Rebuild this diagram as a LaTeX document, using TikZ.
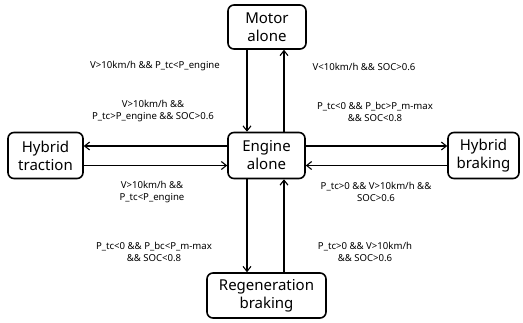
\documentclass[tikz,border=0pt]{standalone}
\usepackage{fontspec}
\setmainfont{Noto Sans}
\usetikzlibrary{arrows.meta}
\begin{document}
\begin{tikzpicture}[x=1pt,y=-1pt,
  state/.style={draw, line width=1.6pt, rounded corners=6pt, align=center,
    font=\fontsize{15}{18}\selectfont, inner sep=0pt},
  cond/.style={align=center, font=\fontsize{9.6}{12.5}\selectfont, inner sep=0pt},
  link/.style={line width=1.1pt, -{Straight Barb[length=5pt,width=8pt,line width=1.1pt]}}]
\useasboundingbox (0,0) rectangle (523,322);
\node[state, minimum width=78pt, minimum height=44pt] (motor) at (267,27) {Motor\\alone};
\node[state, minimum width=77pt, minimum height=46pt] (engine) at (266.5,155.5) {Engine\\alone};
\node[state, minimum width=75pt, minimum height=46pt] (trac) at (45.5,155.5) {Hybrid\\traction};
\node[state, minimum width=71pt, minimum height=46pt] (brak) at (483.5,155.5) {Hybrid\\braking};
\node[state, minimum width=119pt, minimum height=45pt] (regen) at (266.5,295.5) {Regeneration\\braking};

\draw[link] ([xshift=-20pt]motor.south) -- ([xshift=-19.5pt]engine.north);
\draw[link] ([xshift=17.5pt]engine.north) -- ([xshift=17pt]motor.south);
\draw[link] ([yshift=9.5pt]engine.west) -- ([yshift=9.5pt]trac.east);
\draw[link] ([yshift=-10pt]trac.east) -- ([yshift=-10pt]engine.west);
\draw[link] ([yshift=9.5pt]engine.east) -- ([yshift=9.5pt]brak.west);
\draw[link] ([yshift=-10pt]brak.west) -- ([yshift=-10pt]engine.east);
\draw[link] ([xshift=-19.5pt]engine.south) -- ([xshift=-19.5pt]regen.north);
\draw[link] ([xshift=17.5pt]regen.north) -- ([xshift=17.5pt]engine.south);

\node[cond] (c1) at (155,66) {V>10km/h \&\& P\_tc<P\_engine};
\node[cond] (c2) at (153,111) {V>10km/h \&\&\\P\_tc>P\_engine \&\& SOC>0.6};
\node[cond] (c3) at (364,67) {V<10km/h \&\& SOC>0.6};
\node[cond] (c4) at (375,112) {P\_tc<0 \&\& P\_bc>P\_m-max\\\&\& SOC<0.8};
\node[cond] (c5) at (152,192) {V>10km/h \&\&\\P\_tc<P\_engine};
\node[cond] (c6) at (154,252) {P\_tc<0 \&\& P\_bc<P\_m-max\\\&\& SOC<0.8};
\node[cond] (c7) at (376,192) {P\_tc>0 \&\& V>10km/h \&\&\\SOC>0.6};
\node[cond] (c8) at (365,252) {P\_tc>0 \&\& V>10km/h\\\&\& SOC>0.6};
\end{tikzpicture}
\end{document}
